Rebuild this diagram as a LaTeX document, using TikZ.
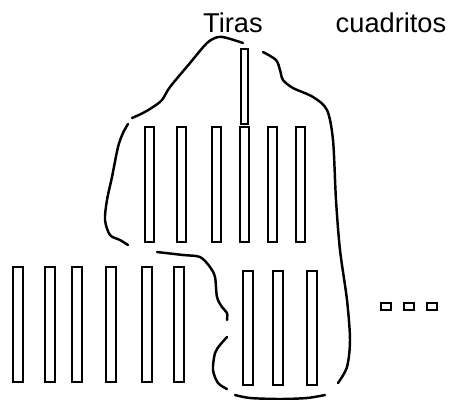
\documentclass[tikz,border=0pt]{standalone}
\usepackage{fontspec}
\setmainfont{Liberation Sans}
\usepackage{tikz}

\tikzset{
    tira/.style={line width=1.7pt},
    borde/.style={line width=1.4pt,smooth,line cap=round},
    etiqueta/.style={font=\fontsize{15.5}{18}\selectfont,inner sep=0pt}
}

\begin{document}
\begin{tikzpicture}[x=0.02cm,y=-0.02cm]
    \useasboundingbox (0,0) rectangle (451,400);
    \node[etiqueta] (tiras) at (233,23) {Tiras};
    \node[etiqueta] (cuadritos) at (391,23) {cuadritos};
    % tiras
    \draw[tira] (241,49) rectangle (248,124);
    \foreach \x in {145,177,212,240,268,296}
        \draw[tira] (\x,127) rectangle (\x+9,242);
    \foreach \x in {13,45,72,106,142,174}
        \draw[tira] (\x,267) rectangle (\x+10,382);
    \foreach \x in {243,273,307}
        \draw[tira] (\x,271) rectangle (\x+10,385);
    % cuadritos
    \foreach \x in {381,404,427}
        \draw[line width=1.5pt] (\x,303) rectangle (\x+10,310);
    % contorno
    \draw[borde] plot coordinates {(243,43) (227,38) (218,37) (207,43) (190,63) (170,87) (162,100) (153,107) (143,113) (132,118)};
    \draw[borde] plot coordinates {(128,124) (123,133) (118,147) (112,177) (107,200) (105,220) (110,235) (120,240) (128,245)};
    \draw[borde] plot coordinates {(263,52) (276,60) (280,70) (283,80) (293,88) (313,97) (327,110) (333,140) (336,200) (340,250) (347,300) (350,340) (347,367) (338,383)};
    \draw[borde] plot coordinates {(235,395) (250,398) (280,399) (307,398) (325,395)};
    \draw[borde] plot coordinates {(157,252) (183,255) (200,257) (210,267) (215,277) (217,297) (222,307) (227,313) (227,320)};
    \draw[borde] plot coordinates {(227,337) (220,345) (215,353) (213,370) (218,383) (227,389)};
\end{tikzpicture}
\end{document}
